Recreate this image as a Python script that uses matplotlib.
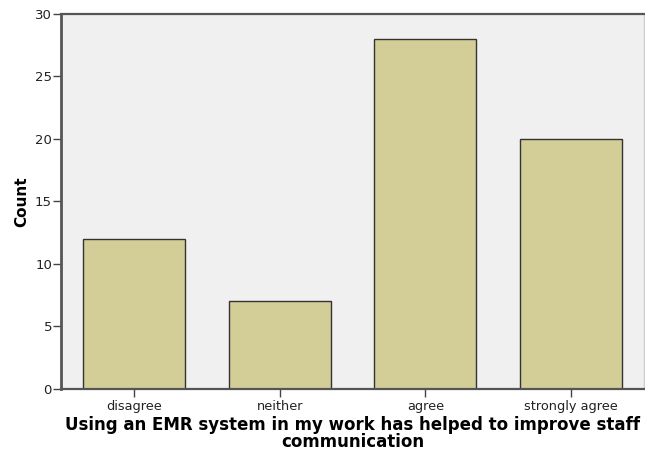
import numpy as np
import matplotlib.pyplot as plt

plt.rcParams['font.family'] = ['DejaVu Sans']

categories = ["disagree", "neither", "agree", "strongly agree"]
counts = [12, 7, 28, 20]
y_ticks = [0, 5, 10, 15, 20, 25, 30]

fig = plt.figure(figsize=(6.45, 4.53), dpi=100)
ax = fig.add_axes([0.0946, 0.1413, 0.9039, 0.8278])
ax.set_facecolor("#f0f0f0")

x = np.arange(len(categories))
ax.bar(x, counts, width=0.7, color="#d3ce97", edgecolor="#333333", linewidth=1.0, zorder=2)

ax.set_xlim(-0.5, 3.5)
ax.set_ylim(0, 30)
ax.set_yticks(y_ticks)
ax.set_xticks(x)
ax.set_xticklabels(categories, fontsize=9.3, color="#222222")
ax.tick_params(axis="y", labelsize=9.5, length=5.5, width=1, color="#444444", pad=1, labelcolor="#222222")
ax.tick_params(axis="x", length=5.5, width=1, color="#444444", pad=2.5)

for side in ["left", "top", "bottom"]:
    ax.spines[side].set_color("#555555")
ax.spines["left"].set_linewidth(2)
ax.spines["top"].set_linewidth(1.6)
ax.spines["bottom"].set_linewidth(1.6)
ax.spines["right"].set_color("#cccccc")
ax.spines["right"].set_linewidth(1)

ax.set_ylabel("Count", fontsize=11, fontweight="bold", labelpad=4)
ax.set_xlabel("Using an EMR system in my work has helped to improve staff\ncommunication",
              fontsize=12, fontweight="bold", labelpad=2, linespacing=0.95)

plt.savefig("out.png", dpi=100)
